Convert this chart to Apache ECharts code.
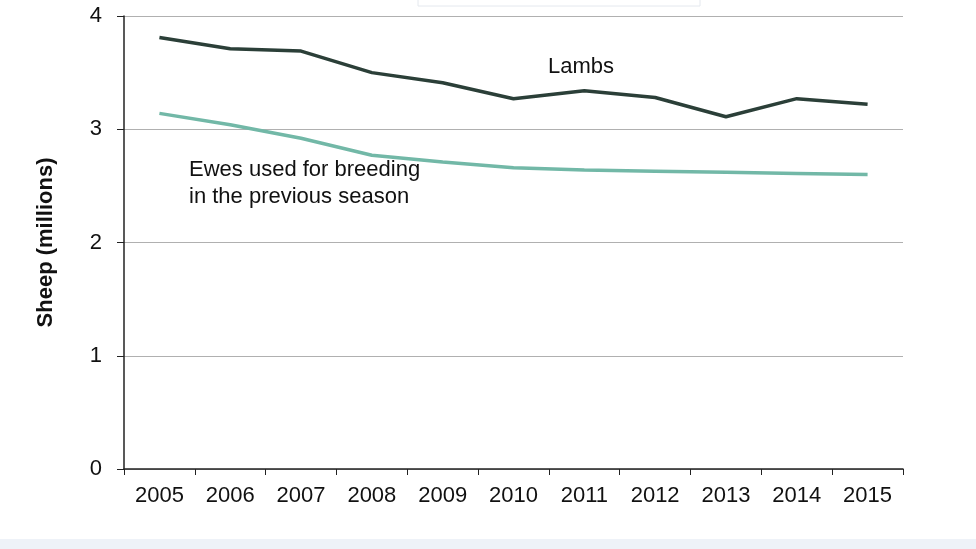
<!DOCTYPE html>
<html><head><meta charset="utf-8">
<script src="https://cdn.jsdelivr.net/npm/echarts@6/dist/echarts.min.js"></script>
<style>html,body{margin:0;padding:0;background:#fff}#c{width:976px;height:549px}</style>
</head><body><div id="c"></div>
<script>
const years = ['2005','2006','2007','2008','2009','2010','2011','2012','2013','2014','2015'];
const lambs = [3.81,3.71,3.69,3.50,3.41,3.27,3.34,3.28,3.11,3.27,3.22];
const ewes  = [3.14,3.04,2.92,2.77,2.71,2.66,2.64,2.63,2.62,2.61,2.60];
const yTicks = [0,1,2,3,4];
const font = 'Liberation Sans, Arial, sans-serif';
const chart = echarts.init(document.getElementById('c'));
chart.setOption({
  backgroundColor:'#fff',
  animation:false,
  grid:{left:124,right:73,top:16,bottom:80},
  xAxis:{type:'category',data:years,boundaryGap:true,
    axisLine:{lineStyle:{color:'#222',width:1.5}},
    axisTick:{show:true,alignWithLabel:false,length:6,lineStyle:{color:'#222'}},
    axisLabel:{color:'#111',fontSize:22,fontFamily:font,margin:16},
    splitLine:{show:false}},
  yAxis:{type:'value',min:yTicks[0],max:yTicks[yTicks.length-1],interval:1,
    name:'Sheep (millions)',nameLocation:'middle',nameGap:67,
    nameTextStyle:{fontSize:22,fontWeight:'bold',color:'#111',fontFamily:font},
    axisLine:{show:true,lineStyle:{color:'#222',width:1.5}},
    axisTick:{show:true,length:7,lineStyle:{color:'#222'}},
    axisLabel:{color:'#111',fontSize:22,fontFamily:font,margin:22},
    splitLine:{lineStyle:{color:'#b0b0b0',width:1.2}}},
  series:[
    {name:'Lambs',type:'line',data:lambs,symbol:'none',lineStyle:{color:'#2b3f38',width:3.5}},
    {name:'Ewes',type:'line',data:ewes,symbol:'none',lineStyle:{color:'#72b8a7',width:3.5}}
  ],
  graphic:[
    {type:'rect',shape:{x:418,y:-10,width:282,height:16},style:{fill:'#fff',stroke:'#e4e8ee',lineWidth:1}},
    {type:'rect',shape:{x:0,y:539,width:976,height:10},style:{fill:'#eef2f8'}},
    {type:'text',left:548,top:56,style:{text:'Lambs',fontSize:22,fontFamily:font,fill:'#111'}},
    {type:'text',left:189,top:156,style:{text:'Ewes used for breeding\nin the previous season',fontSize:22,lineHeight:27,fontFamily:font,fill:'#111'}}
  ]
});
</script></body></html>
